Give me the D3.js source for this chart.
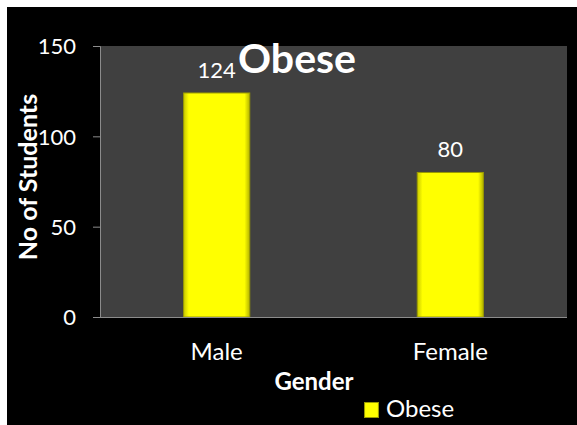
<!DOCTYPE html>
<html><head><meta charset="utf-8">
<script src="https://cdn.jsdelivr.net/npm/d3@7"></script>
<style>body{margin:0;background:#fff}svg{display:block}text{font-family:Lato,"Open Sans",sans-serif}</style>
</head><body>
<script>
const categories = ["Male", "Female"];
const values = [124, 80];
const yTicks = [0, 50, 100, 150];
const seriesName = "Obese";

const W = 577, H = 425;
const svg = d3.select("body").append("svg").attr("width", W).attr("height", H);
svg.append("rect").attr("x", 7).attr("y", 7).attr("width", W - 7).attr("height", H - 7).attr("fill", "#000");

const m = {l: 100, r: 567, t: 46, b: 317};
const x = d3.scaleBand().domain(categories).range([m.l, m.r]).paddingInner(0.717).paddingOuter(0.358);
const y = d3.scaleLinear().domain([0, 150]).range([m.b, m.t]);

svg.append("rect").attr("x", m.l).attr("y", m.t).attr("width", m.r - m.l).attr("height", m.b - m.t).attr("fill", "#404040");

const defs = svg.append("defs");
const g = defs.append("linearGradient").attr("id", "bev").attr("x1", 0).attr("x2", 1);
g.append("stop").attr("offset", "0").attr("stop-color", "#c8c800");
g.append("stop").attr("offset", "0.08").attr("stop-color", "#ffff00");
g.append("stop").attr("offset", "0.92").attr("stop-color", "#ffff00");
g.append("stop").attr("offset", "1").attr("stop-color", "#b4b400");

svg.selectAll(".bar").data(values).join("rect")
  .attr("x", (d, i) => x(categories[i])).attr("width", x.bandwidth())
  .attr("y", d => y(d)).attr("height", d => y(0) - y(d))
  .attr("fill", "url(#bev)").attr("stroke", "#9a9a00").attr("stroke-width", 1);

svg.selectAll(".lbl").data(values).join("text")
  .attr("x", (d, i) => x(categories[i]) + x.bandwidth() / 2).attr("y", d => y(d) - 15)
  .attr("text-anchor", "middle").attr("fill", "#fff").attr("font-size", 22).text(d => d);

const ya = svg.append("g").attr("transform", `translate(${m.l},0)`)
  .call(d3.axisLeft(y).tickValues(yTicks).tickSize(7).tickPadding(17));
ya.selectAll("path,line").attr("stroke", "#8c8c8c");
ya.selectAll("text").attr("fill", "#fff").attr("font-size", 22).attr("font-family", "Lato,sans-serif").attr("dy", "0.35em");

const xa = svg.append("g").attr("transform", `translate(0,${m.b})`)
  .call(d3.axisBottom(x).tickSize(0).tickPadding(26));
xa.select("path").attr("stroke", "#8c8c8c").attr("d", `M${m.l - 7},0.5H${m.r}`);
xa.selectAll("text").attr("fill", "#fff").attr("font-size", 24).attr("font-family", "Lato,sans-serif");

svg.append("text").attr("x", 297).attr("y", 73).attr("text-anchor", "middle").attr("fill", "#fff")
  .attr("font-size", 41).attr("font-weight", "bold").text("Obese");
svg.append("text").attr("x", 314).attr("y", 390).attr("text-anchor", "middle").attr("fill", "#fff")
  .attr("font-size", 24).attr("font-weight", "bold").text("Gender");
svg.append("text").attr("transform", "translate(37,177) rotate(-90)").attr("text-anchor", "middle").attr("fill", "#fff")
  .attr("font-size", 25).attr("font-weight", "bold").text("No of Students");

svg.append("rect").attr("x", 364.5).attr("y", 402.5).attr("width", 14).attr("height", 15)
  .attr("fill", "url(#bev)").attr("stroke", "#9a9a00");
svg.append("text").attr("x", 386).attr("y", 417).attr("fill", "#fff").attr("font-size", 24).text(seriesName);
</script>
</body></html>
